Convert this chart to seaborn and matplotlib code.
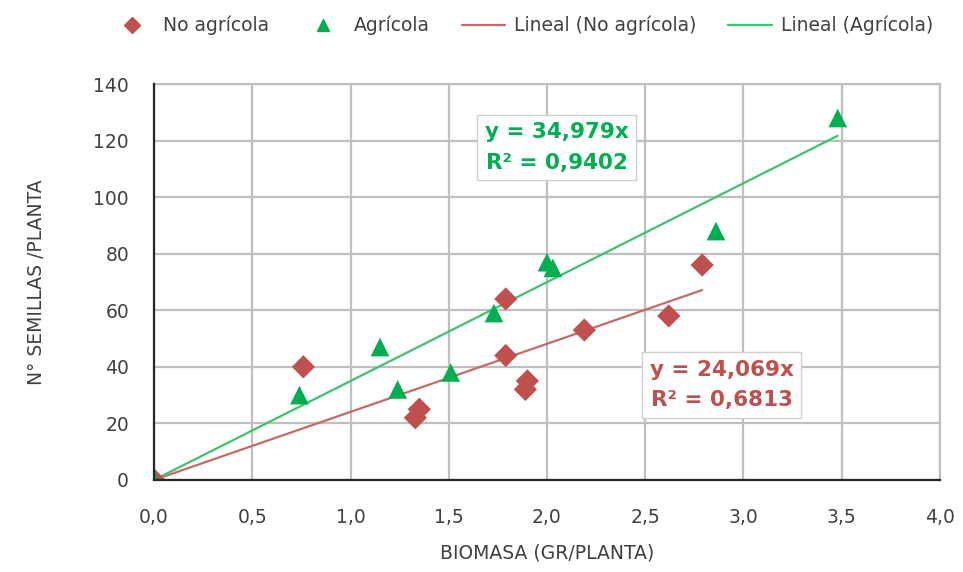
import numpy as np
import pandas as pd
import matplotlib
matplotlib.use("Agg")
import matplotlib.pyplot as plt
import seaborn as sns
from matplotlib.lines import Line2D

# data
no_agricola_x = [0.0, 0.76, 1.33, 1.35, 1.79, 1.79, 1.89, 1.90, 2.19, 2.62, 2.79]
no_agricola_y = [0, 40, 22, 25, 44, 64, 32, 35, 53, 58, 76]
agricola_x = [0.0, 0.74, 1.15, 1.24, 1.51, 1.73, 2.00, 2.03, 2.86, 3.48]
agricola_y = [0, 30, 47, 32, 38, 59, 77, 75, 88, 128]

slope_no_agricola = 24.069
r2_no_agricola = 0.6813
slope_agricola = 34.979
r2_agricola = 0.9402

x_ticks = [0.0, 0.5, 1.0, 1.5, 2.0, 2.5, 3.0, 3.5, 4.0]
y_ticks = [0, 20, 40, 60, 80, 100, 120, 140]

RED = "#c0504d"
GREEN = "#00b050"
RED_LINE = "#c46a67"
GREEN_LINE = "#3cc36e"
TEXT = "#404040"

sns.set_style("white")
plt.rcParams["font.family"] = ["DejaVu Sans"]

df_no = pd.DataFrame({"x": no_agricola_x, "y": no_agricola_y})
df_ag = pd.DataFrame({"x": agricola_x, "y": agricola_y})

fig = plt.figure(figsize=(9.63, 5.72), dpi=100)
ax = fig.add_axes([0.160, 0.161, 0.816, 0.692])

# trend lines through the origin
xs_no = np.array([0, max(no_agricola_x)])
xs_ag = np.array([0, max(agricola_x)])
sns.lineplot(x=xs_no, y=slope_no_agricola * xs_no, ax=ax, color=RED_LINE, lw=1.6, zorder=3)
sns.lineplot(x=xs_ag, y=slope_agricola * xs_ag, ax=ax, color=GREEN_LINE, lw=1.6, zorder=3)

sns.scatterplot(data=df_no, x="x", y="y", ax=ax, marker="D", s=140, color=RED,
                edgecolor="none", zorder=4)
sns.scatterplot(data=df_ag, x="x", y="y", ax=ax, marker="^", s=180, color=GREEN,
                edgecolor="none", zorder=5)

ax.set_xlim(0, 4.0)
ax.set_ylim(0, 140)
ax.set_xticks(x_ticks)
ax.set_xticklabels([f"{v:.1f}".replace(".", ",") for v in x_ticks])
ax.set_yticks(y_ticks)
ax.set_yticklabels([str(v) for v in y_ticks])
ax.tick_params(axis="both", labelsize=13.5, colors=TEXT, length=0)
ax.tick_params(axis="y", pad=18)
ax.tick_params(axis="x", pad=20)
ax.grid(True, color="#bfbfbf", lw=1.6)
ax.set_axisbelow(True)
for side in ["top", "right"]:
    ax.spines[side].set_color("#bfbfbf")
    ax.spines[side].set_linewidth(1.6)
for side in ["left", "bottom"]:
    ax.spines[side].set_color("#262626")
    ax.spines[side].set_linewidth(1.6)
ax.spines["left"].set_zorder(6)
ax.spines["bottom"].set_zorder(6)
for sp in ax.spines.values():
    sp.set_visible(True)

ax.set_xlabel("BIOMASA (GR/PLANTA)", fontsize=13.5, color=TEXT, labelpad=12)
ax.set_ylabel("N° SEMILLAS /PLANTA", fontsize=13.5, color=TEXT, labelpad=34)

# equation boxes
box = dict(boxstyle="square,pad=0.35", facecolor="white", edgecolor="#d0d0d0", lw=1)
ax.text(2.05, 117.5, f"y = {slope_agricola:.3f}x".replace(".", ",") + "\n"
        + f"R² = {r2_agricola:.4f}".replace(".", ","),
        ha="center", va="center", fontsize=15.5, fontweight="bold", color=GREEN,
        linespacing=1.65, bbox=box, zorder=7)
ax.text(2.89, 33.5, f"y = {slope_no_agricola:.3f}x".replace(".", ",") + "\n"
        + f"R² = {r2_no_agricola:.4f}".replace(".", ","),
        ha="center", va="center", fontsize=15.5, fontweight="bold", color=RED,
        linespacing=1.65, bbox=box, zorder=7)

handles = [
    Line2D([], [], marker="D", color=RED, ls="none", markersize=8),
    Line2D([], [], marker="^", color=GREEN, ls="none", markersize=9),
    Line2D([], [], color=RED_LINE, lw=1.6),
    Line2D([], [], color=GREEN_LINE, lw=1.6),
]
labels = ["No agrícola", "Agrícola", "Lineal (No agrícola)", "Lineal (Agrícola)"]
fig.legend(handles, labels, loc="center", bbox_to_anchor=(0.542, 0.955), ncol=4,
           frameon=False, fontsize=13.5, handlelength=2.3, handletextpad=0.5,
           columnspacing=1.7, labelcolor=TEXT)

fig.savefig("out.png", dpi=100)
